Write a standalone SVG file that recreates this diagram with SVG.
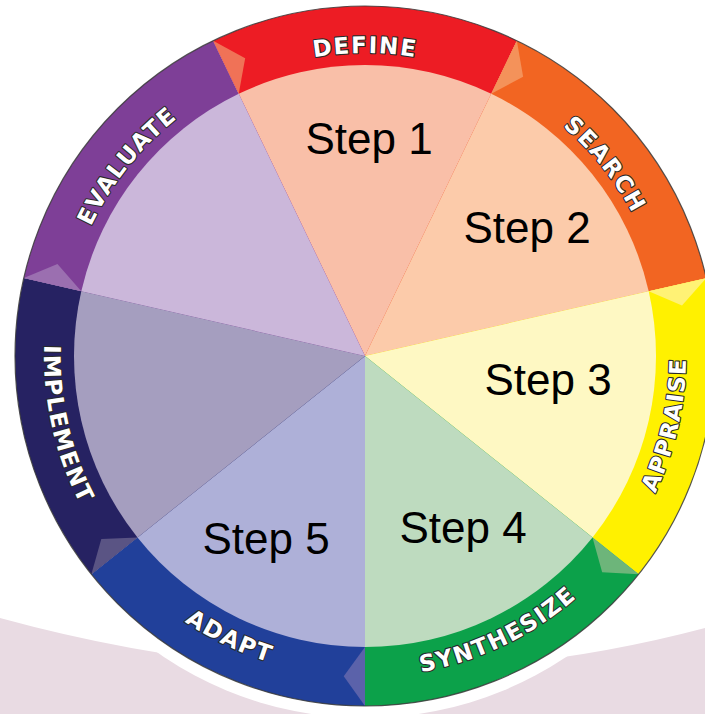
<svg xmlns="http://www.w3.org/2000/svg" width="705" height="714" viewBox="0 0 705 714">
<style>
.lbl{font-family:"DejaVu Sans","Liberation Sans",Arial,sans-serif;font-weight:bold;font-size:23px;letter-spacing:1.5px;fill:#fff;stroke:#2a2a2a;stroke-width:2.2;paint-order:stroke;stroke-linejoin:round}
.step{font-family:"Liberation Sans",Arial,sans-serif;font-size:44px;fill:#000;text-anchor:middle}
.tri{stroke:none}
</style>
<defs>
<path id="pEvaluate" d="M69.60,288.58 A303,303 0 0 1 233.53,83.01"/>
<path id="pDefine" d="M233.53,83.01 A303,303 0 0 1 496.47,83.01"/>
<path id="pSearch" d="M496.47,83.01 A303,303 0 0 1 660.40,288.58"/>
<path id="pAppraise" d="M615.97,556.14 A321,321 0 0 0 677.95,284.57"/>
<path id="pSynth" d="M365,677 A321,321 0 0 0 615.97,556.14"/>
<path id="pAdapt" d="M114.03,556.14 A321,321 0 0 0 365,677"/>
<path id="pImplement" d="M52.05,284.57 A321,321 0 0 0 114.03,556.14"/>
</defs>
<rect width="705" height="714" fill="#fff"/>
<path d="M0,618 Q365,718 705,628 L705,714 L0,714 Z" fill="#E9DBE3"/>
<circle cx="365" cy="356" r="362" fill="#fff"/>

<g id="step1">
<path d="M365,356 L213.14,40.66 A350,350 0 0 1 516.86,40.66 Z" fill="#ED1C24"/>
<path d="M365,356 L238.74,93.82 A291,291 0 0 1 491.26,93.82 Z" fill="#F9BFA8"/>
<text class="lbl" text-anchor="middle"><textPath href="#pDefine" startOffset="50%">DEFINE</textPath></text>
<text class="step" x="369" y="154">Step 1</text>
</g>
<g id="step2">
<path d="M365,356 L516.86,40.66 A350,350 0 0 1 706.23,278.12 Z" fill="#F26522"/>
<path d="M365,356 L491.26,93.82 A291,291 0 0 1 648.71,291.25 Z" fill="#FCCBAA"/>
<text class="lbl" text-anchor="middle"><textPath href="#pSearch" startOffset="50%">SEARCH</textPath></text>
<text class="step" x="527" y="243">Step 2</text>
</g>
<g id="step3">
<path d="M365,356 L706.23,278.12 A350,350 0 0 1 638.64,574.22 Z" fill="#FFF100"/>
<path d="M365,356 L648.71,291.25 A291,291 0 0 1 592.51,537.44 Z" fill="#FEF8C3"/>
<text class="lbl" text-anchor="middle"><textPath href="#pAppraise" startOffset="50%">APPRAISE</textPath></text>
<text class="step" x="548" y="395">Step 3</text>
</g>
<g id="step4">
<path d="M365,356 L638.64,574.22 A350,350 0 0 1 365,706 Z" fill="#0CA14A"/>
<path d="M365,356 L592.51,537.44 A291,291 0 0 1 365,647 Z" fill="#BEDBBF"/>
<text class="lbl" text-anchor="middle"><textPath href="#pSynth" startOffset="50%">SYNTHESIZE</textPath></text>
<text class="step" x="463" y="543">Step 4</text>
</g>
<g id="step5">
<path d="M365,356 L365,706 A350,350 0 0 1 91.36,574.22 Z" fill="#21409A"/>
<path d="M365,356 L365,647 A291,291 0 0 1 137.49,537.44 Z" fill="#AEB0D8"/>
<text class="lbl" text-anchor="middle"><textPath href="#pAdapt" startOffset="50%">ADAPT</textPath></text>
<text class="step" x="266" y="554">Step 5</text>
</g>
<g id="implement">
<path d="M365,356 L91.36,574.22 A350,350 0 0 1 23.77,278.12 Z" fill="#262262"/>
<path d="M365,356 L137.49,537.44 A291,291 0 0 1 81.29,291.25 Z" fill="#A59EBF"/>
<text class="lbl" text-anchor="middle"><textPath href="#pImplement" startOffset="50%">IMPLEMENT</textPath></text>
</g>
<g id="evaluate">
<path d="M365,356 L23.77,278.12 A350,350 0 0 1 213.14,40.66 Z" fill="#7E3F97"/>
<path d="M365,356 L81.29,291.25 A291,291 0 0 1 238.74,93.82 Z" fill="#CBB7DA"/>
<text class="lbl" text-anchor="middle"><textPath href="#pEvaluate" startOffset="50%">EVALUATE</textPath></text>
</g>

<g id="connectors">
<polygon class="tri" points="365,706 343.73,676.29 365,647" fill="#5B62AA"/>
<polygon class="tri" points="638.64,574.22 602.15,572.33 592.51,537.44" fill="#6DB57A"/>
<polygon class="tri" points="706.23,278.12 682.0,305.47 648.71,291.25" fill="#FFF275"/>
<polygon class="tri" points="516.86,40.66 523.13,76.65 491.26,93.82" fill="#F4925A"/>
<polygon class="tri" points="213.14,40.66 245.17,58.20 238.74,93.82" fill="#F07257"/>
<polygon class="tri" points="23.77,278.12 57.46,263.99 81.29,291.25" fill="#9B6FB0"/>
<polygon class="tri" points="91.36,574.22 101.31,539.05 137.49,537.44" fill="#5A5484"/>
</g>
<circle cx="365" cy="356" r="350" fill="none" stroke="#3a3a3a" stroke-width="1.2" stroke-opacity="0.85"/>
</svg>
